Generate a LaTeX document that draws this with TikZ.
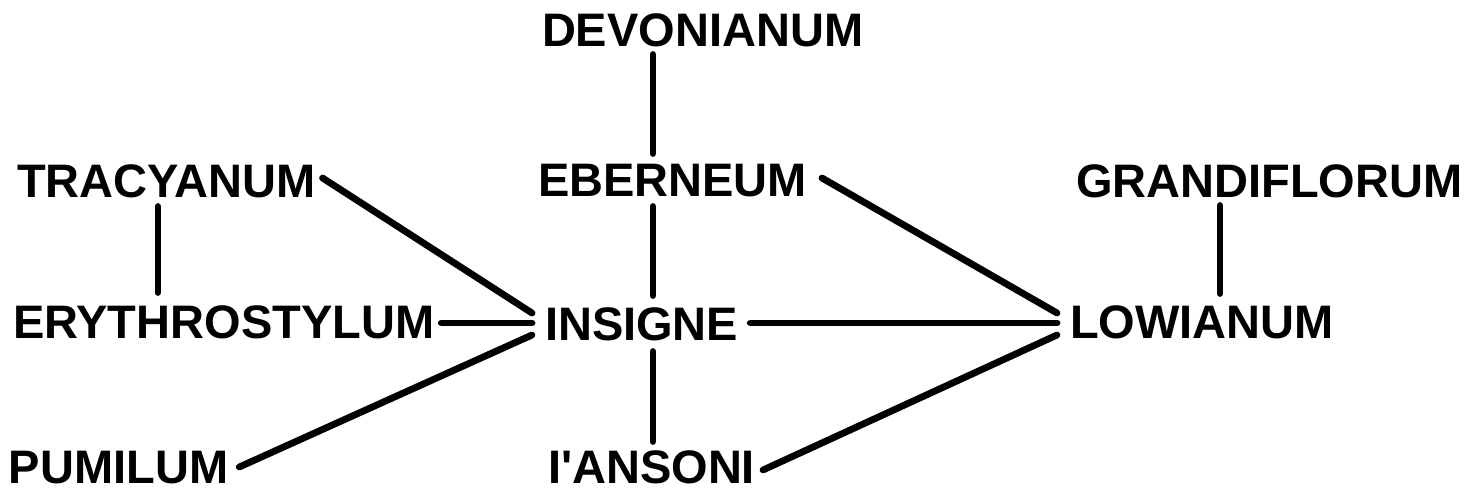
\documentclass[tikz,border=0pt]{standalone}
\usepackage{fontspec}
\setmainfont{Liberation Sans}[Ligatures=TeXOff]
\usetikzlibrary{calc}
\tikzset{
  lbl/.style={anchor=west, inner sep=0pt, outer sep=0pt, text height=33pt, text depth=0pt,
    font=\fontsize{47}{50}\selectfont\bfseries},
  link/.style={line width=6.8pt, line cap=round}
}
\begin{document}
\begin{tikzpicture}[x=1pt, y=-1pt]
\useasboundingbox[fill=white] (0,0) rectangle (1469,492);
\node[lbl] (devon)  at (542,30)  {DEVONIANUM};
\node[lbl] (tracy)  at (17,181)  {TRACYANUM};
\node[lbl] (eber)   at (538,180) {EBERNEUM};
\node[lbl] (grandi) at (1076,181) {GRANDIFLORUM};
\node[lbl] (eryth)  at (13,322)  {ERYTHROSTYLUM};
\node[lbl] (insig)  at (545,324) {INSIGNE};
\node[lbl] (lowi)   at (1070,322) {LOWIANUM};
\node[lbl] (pumil)  at (9,467)   {PUMILUM};
\node[lbl] (anson)  at (548,467) {I'ANSONI};
% verticals
\draw[link] ($(devon.south west)+(111,8)$) -- ($(eber.north west)+(115,-10)$);
\draw[link] ($(eber.south west)+(115,10)$) -- ($(insig.north west)+(108,-12)$);
\draw[link] ($(insig.south west)+(108,11)$) -- ($(anson.north west)+(105,-9)$);
\draw[link] ($(tracy.south west)+(141,9)$) -- ($(eryth.north west)+(145,-13)$);
\draw[link] ($(grandi.south west)+(144,8)$) -- ($(lowi.north west)+(150,-12)$);
% to INSIGNE
\draw[link] ($(tracy.east)+(7,-3)$) -- ($(insig.west)+(-13,-11)$);
\draw[link] ($(eryth.east)+(7,1)$) -- ($(insig.west)+(-13,-1)$);
\draw[link] ($(pumil.east)+(11,0)$) -- ($(insig.west)+(-13,11)$);
% to LOWIANUM
\draw[link] ($(eber.east)+(15,-2)$) -- ($(lowi.west)+(-13,-9)$);
\draw[link] ($(insig.east)+(12,-1)$) -- ($(lowi.west)+(-13,1)$);
\draw[link] ($(anson.east)+(8,3)$) -- ($(lowi.west)+(-13,13)$);
\end{tikzpicture}
\end{document}
